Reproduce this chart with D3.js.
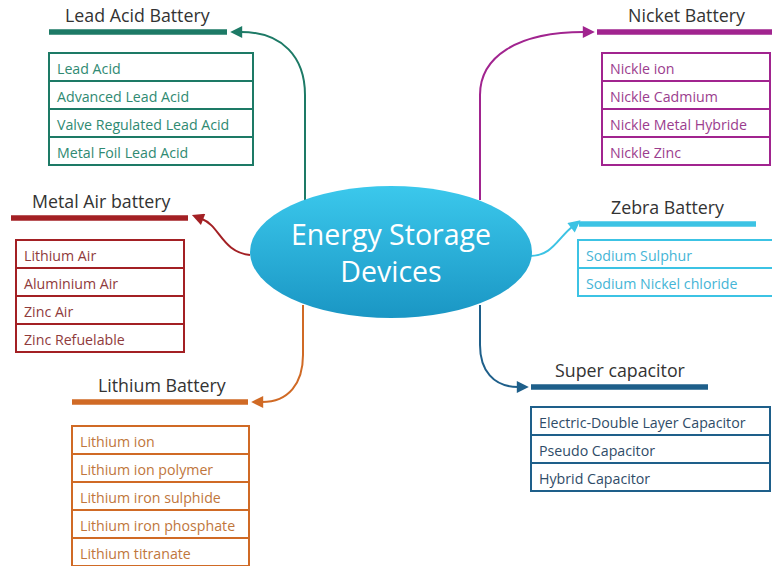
<!DOCTYPE html>
<html>
<head>
<meta charset="utf-8">
<script src="https://cdn.jsdelivr.net/npm/d3@7"></script>
<style>
  html, body { margin: 0; padding: 0; background: #fff; }
  text { font-family: "Open Sans", Lato, sans-serif; }
</style>
</head>
<body>
<div id="vis"></div>
<script>
// chart content
const centerLabel = ["Energy Storage", "Devices"];
const groups = ["Lead Acid Battery", "Nicket Battery", "Metal Air battery", "Zebra Battery", "Super capacitor", "Lithium Battery"];
const leadItems = ["Lead Acid", "Advanced Lead Acid", "Valve Regulated Lead Acid", "Metal Foil Lead Acid"];
const nickelItems = ["Nickle ion", "Nickle Cadmium", "Nickle Metal Hybride", "Nickle Zinc"];
const metalAirItems = ["Lithium Air", "Aluminium Air", "Zinc Air", "Zinc Refuelable"];
const zebraItems = ["Sodium Sulphur", "Sodium Nickel chloride"];
const superItems = ["Electric-Double Layer Capacitor", "Pseudo Capacitor", "Hybrid Capacitor"];
const lithiumItems = ["Lithium ion", "Lithium ion polymer", "Lithium iron sulphide", "Lithium iron phosphate", "Lithium titranate"];
const groupItems = [leadItems, nickelItems, metalAirItems, zebraItems, superItems, lithiumItems];

// layout + styling (kept apart from the content)
const W = 772, H = 566;
const ROW = 28;
const layout = [
  // bar: x0,x1,y ; title x ; box: x,w,y ; link from -> to
  {color: "#1d7a66", text: "#2f8a72", bar: [49, 227, 32], tx: 65, box: [49, 204, 53],
   link: {from: [305, 200], via: [305, 95], to: [241, 32]}},
  {color: "#a1248f", text: "#9b3d8e", bar: [597, 772, 32], tx: 628, box: [602, 168, 53],
   link: {from: [480, 200], via: [480, 95], to: [584, 32]}},
  {color: "#a32024", text: "#8f3b3c", bar: [11, 188, 218], tx: 32, box: [16, 168, 240],
   link: {from: [250, 255], to: [202, 219], c1: [222, 252], c2: [220, 226]}},
  {color: "#3cc3e4", text: "#45b5d6", bar: [579, 756, 224], tx: 611, box: [578, 200, 240],
   link: {from: [530, 256], to: [572, 227], c1: [552, 256], c2: [558, 238]}},
  {color: "#1e5f8a", text: "#2f4c68", bar: [531, 708, 387], tx: 555, box: [531, 239, 407],
   link: {from: [480, 305], via: [480, 345], to: [518, 387]}},
  {color: "#d06a25", text: "#c0763c", bar: [72, 248, 402], tx: 98, box: [72, 177, 426],
   link: {from: [303, 305], via: [303, 355], to: [262, 402]}}
];

const svg = d3.select("#vis").append("svg")
    .attr("width", W)
    .attr("height", H);

const defs = svg.append("defs");

const grad = defs.append("linearGradient")
    .attr("id", "ellGrad")
    .attr("x1", 0).attr("y1", 0).attr("x2", 0).attr("y2", 1);
grad.append("stop").attr("offset", "0%").attr("stop-color", "#3bc8ec");
grad.append("stop").attr("offset", "100%").attr("stop-color", "#1a96c4");

layout.forEach((l, i) => {
  defs.append("marker")
      .attr("id", "arrow" + i)
      .attr("viewBox", "0 0 10 10")
      .attr("refX", 1).attr("refY", 5)
      .attr("markerWidth", 14).attr("markerHeight", 12)
      .attr("markerUnits", "userSpaceOnUse")
      .attr("orient", "auto")
      .append("path")
      .attr("d", "M0,0 L10,5 L0,10 Z")
      .attr("fill", l.color);
});

// link path between the centre node and a group bar
function linkPath(lk) {
  const p = d3.path();
  p.moveTo(lk.from[0], lk.from[1]);
  if (lk.via) {
    const [vx, vy] = lk.via, [tx, ty] = lk.to;
    p.lineTo(vx, vy);
    p.bezierCurveTo(vx, vy + (ty - vy) * 0.6, vx + (tx - vx) * 0.35, ty, tx, ty);
  } else {
    p.bezierCurveTo(lk.c1[0], lk.c1[1], lk.c2[0], lk.c2[1], lk.to[0], lk.to[1]);
  }
  return p.toString();
}

const g = svg.selectAll(".group")
    .data(groups)
    .enter()
    .append("g")
    .attr("class", "group");

g.append("path")
    .attr("d", (d, i) => linkPath(layout[i].link))
    .attr("fill", "none")
    .attr("stroke", (d, i) => layout[i].color)
    .attr("stroke-width", 2)
    .attr("marker-end", (d, i) => `url(#arrow${i})`);

g.append("line")
    .attr("x1", (d, i) => layout[i].bar[0])
    .attr("x2", (d, i) => layout[i].bar[1])
    .attr("y1", (d, i) => layout[i].bar[2])
    .attr("y2", (d, i) => layout[i].bar[2])
    .attr("stroke", (d, i) => layout[i].color)
    .attr("stroke-width", 5.5);

g.append("text")
    .attr("x", (d, i) => layout[i].tx)
    .attr("y", (d, i) => layout[i].bar[2] - 10)
    .attr("font-size", 17.8)
    .attr("fill", "#333")
    .text(d => d);

// item tables
g.each(function (d, i) {
  const l = layout[i];
  const items = groupItems[i];
  const y = d3.scaleBand()
      .domain(items)
      .range([l.box[2], l.box[2] + ROW * items.length]);
  const rows = d3.select(this).selectAll(".row")
      .data(items)
      .enter()
      .append("g")
      .attr("class", "row");
  rows.append("rect")
      .attr("x", l.box[0])
      .attr("y", it => y(it))
      .attr("width", l.box[1])
      .attr("height", y.bandwidth())
      .attr("fill", "#fff")
      .attr("stroke", l.color)
      .attr("stroke-width", 2);
  rows.append("text")
      .attr("x", l.box[0] + 8)
      .attr("y", it => y(it) + 20.5)
      .attr("font-size", 14.2)
      .attr("fill", l.text)
      .text(it => it);
});

// centre node
svg.append("ellipse")
    .attr("cx", 391).attr("cy", 252)
    .attr("rx", 141).attr("ry", 66)
    .attr("fill", "url(#ellGrad)");

svg.append("text")
    .attr("text-anchor", "middle")
    .attr("font-size", 28.5)
    .attr("font-weight", 500)
    .attr("fill", "#fff")
    .selectAll("tspan")
    .data(centerLabel)
    .enter()
    .append("tspan")
    .attr("x", 391)
    .attr("y", (d, i) => 245 + i * 37)
    .text(d => d);
</script>
</body>
</html>
